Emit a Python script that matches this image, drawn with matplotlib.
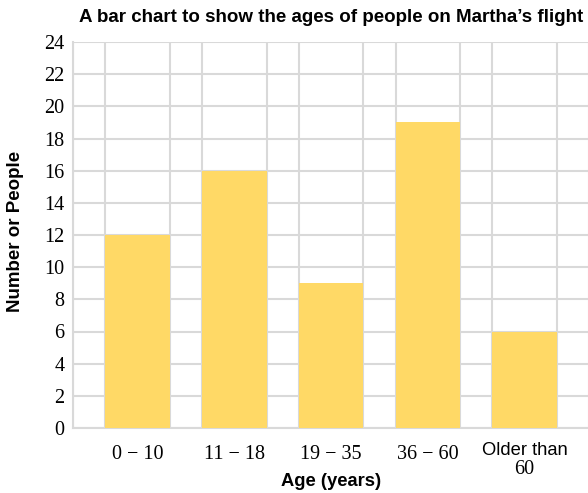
import numpy as np
import matplotlib.pyplot as plt

age_groups = ["0 \u2212 10", "11 \u2212 18", "19 \u2212 35", "36 \u2212 60", "Older than\n60"]
people = [12, 16, 9, 19, 6]
y_ticks = list(range(0, 25, 2))

bar_color = "#FFD966"
grid_color = "#D9D9D9"

fig = plt.figure(figsize=(5.88, 4.93), dpi=100)
ax = fig.add_axes([73 / 588, 65 / 493, 516 / 588, 386 / 493])

# each category takes 3 grid cells, bar is 2 cells wide
x = np.arange(len(people)) * 3 + 2
ax.bar(x, people, width=2, color=bar_color, zorder=2)

ax.set_xlim(0, 16)
ax.set_ylim(0, 24)
ax.set_yticks(y_ticks)
ax.set_yticklabels([str(t) for t in y_ticks], family="Liberation Serif", fontsize=14.5)
ax.set_xticks(np.arange(0, 17), minor=True)
ax.set_xticks(x)

labels = ax.set_xticklabels([a.split("\n")[0] for a in age_groups], fontsize=14.5)
for i, (lab, a) in enumerate(zip(labels, age_groups)):
    if "\n" in a:
        lab.set_family("Liberation Sans")
        lab.set_fontsize(13.2)
        lab.set_y(0.008)
        ax.text(x[i], -2.55, a.split("\n")[1],
                family="Liberation Serif", fontsize=14.5, ha="center", va="center")
    else:
        lab.set_family("Liberation Serif")

ax.tick_params(axis="both", which="both", length=0)
ax.tick_params(axis="y", pad=6)
ax.tick_params(axis="x", pad=12)

ax.grid(True, axis="y", color=grid_color, linewidth=1.5, zorder=1)
ax.grid(True, axis="x", which="minor", color=grid_color, linewidth=1.5, zorder=1)
for name, s in ax.spines.items():
    if name in ("left", "bottom"):
        s.set_color(grid_color)
        s.set_linewidth(1.5)
        s.set_zorder(1)
    else:
        s.set_visible(False)

fig.text(331 / 588, 1 - 18 / 493, "A bar chart to show the ages of people on Martha\u2019s flight",
         family="Liberation Sans", fontweight="bold", fontsize=13.5, ha="center", va="center")
fig.text(331 / 588, 1 - 481 / 493, "Age (years)", family="Liberation Sans",
         fontweight="bold", fontsize=13.2, ha="center", va="center")
fig.text(16 / 588, 1 - 231 / 493, "Number or People", family="Liberation Sans",
         fontweight="bold", fontsize=13.5, ha="center", va="center", rotation=90)

fig.savefig("out.png", dpi=100)
